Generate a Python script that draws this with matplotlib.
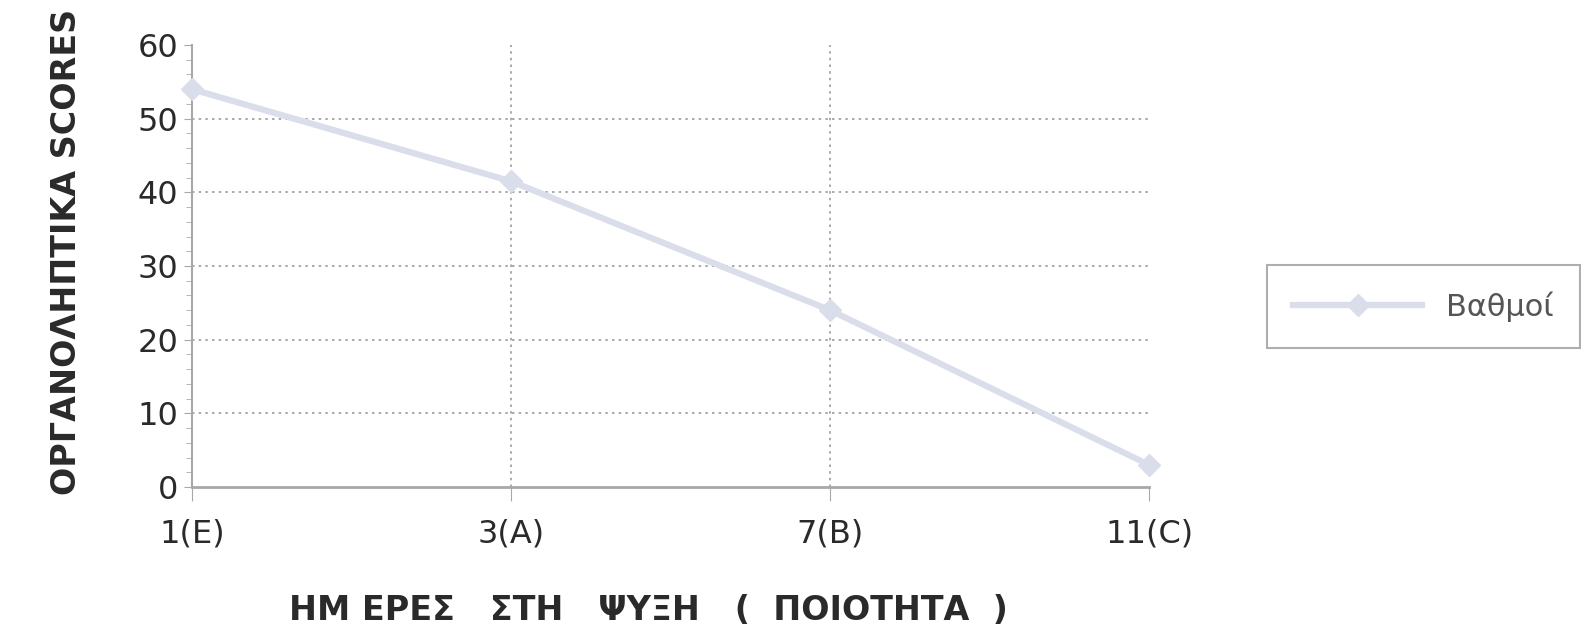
import matplotlib
matplotlib.use("Agg")
import matplotlib.pyplot as plt
from matplotlib.ticker import MultipleLocator

# data
days = ["1(E)", "3(A)", "7(B)", "11(C)"]
scores = [54, 41.5, 24, 3]
series_name = "Βαθμοί"

plt.rcParams['font.family'] = ['DejaVu Sans']

fig = plt.figure(figsize=(15.81, 6.39), dpi=100)
ax = fig.add_axes([0.1214, 0.2379, 0.6054, 0.6917])

line_col = "#d9deea"
grid_col = "#9c9c9c"
axis_col = "#a8a8a8"

xs = list(range(len(days)))
ax.plot(xs, scores, color=line_col, lw=4.5, marker="D", ms=11,
        mfc=line_col, mec=line_col, clip_on=False, zorder=3, label=series_name)

ax.set_xlim(0, len(days) - 1)
ax.set_ylim(0, 60)
ax.set_xticks(xs)
ax.set_xticklabels(days)
ax.yaxis.set_major_locator(MultipleLocator(10))
ax.yaxis.set_minor_locator(MultipleLocator(2))

for v in [10, 20, 30, 40, 50]:
    ax.axhline(v, color=grid_col, lw=1.2, ls=(0, (1.5, 2.5)), zorder=1)
for x in xs[1:3]:
    ax.axvline(x, color=grid_col, lw=1.2, ls=(0, (1.5, 2.5)), zorder=1)

for s in ["top", "right"]:
    ax.spines[s].set_visible(False)
ax.spines["left"].set_color(axis_col)
ax.spines["bottom"].set_color(axis_col)
ax.spines["left"].set_linewidth(1.5)
ax.spines["bottom"].set_linewidth(2)

ax.tick_params(axis="y", which="major", length=6, color=axis_col, labelsize=23,
               labelcolor="#2a2a2a", pad=4)
ax.tick_params(axis="y", which="minor", length=4, color=axis_col)
ax.tick_params(axis="x", length=10, color=axis_col, labelsize=23,
               labelcolor="#2a2a2a", pad=13)

# y title (in the original it runs up to the top edge)
fig.text(0.042, 0.605, "ΟΡΓΑΝΟΛΗΠΤΙΚΑ SCORES", rotation=90, ha="center",
         va="center", fontsize=24, fontweight="bold", color="#2a2a2a")
fig.text(0.41, 0.045, "ΗΜ ΕΡΕΣ   ΣΤΗ   ΨΥΞΗ   (  ΠΟΙΟΤΗΤΑ  )", ha="center",
         va="center", fontsize=24, fontweight="bold", color="#2a2a2a")

leg = fig.legend(loc="center left", bbox_to_anchor=(0.792, 0.52), fontsize=22,
                 handlelength=4.2, frameon=True, fancybox=False,
                 borderpad=0.85, handletextpad=0.8)
leg.get_frame().set_edgecolor("#9a9a9a")
leg.get_frame().set_linewidth(1.5)
for t in leg.get_texts():
    t.set_color("#555555")

fig.savefig("out.png", dpi=100)
